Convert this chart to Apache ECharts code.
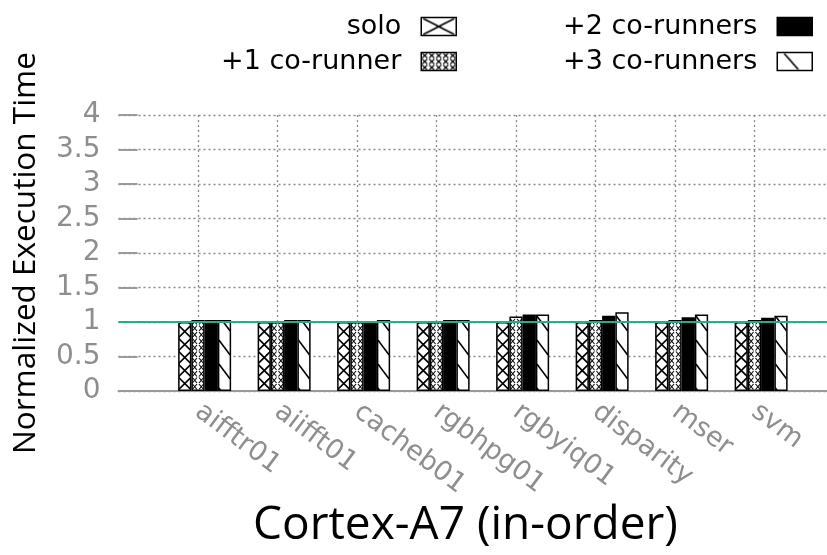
<!DOCTYPE html>
<html>
<head>
<meta charset="utf-8">
<script src="https://cdn.jsdelivr.net/npm/echarts@6/dist/echarts.min.js"></script>
<style>
  html, body { margin: 0; padding: 0; background: #ffffff; }
  #chart { width: 827px; height: 555px; }
</style>
</head>
<body>
<div id="chart"></div>
<script>
// Benchmarks on the x axis
const categories = ['aifftr01', 'aiifft01', 'cacheb01', 'rgbhpg01', 'rgbyiq01', 'disparity', 'mser', 'svm'];
// Series names
const seriesNames = ['solo', '+1 co-runner', '+2 co-runners', '+3 co-runners'];
// Normalized execution time per benchmark
const solo        = [1.00, 1.00, 1.00, 1.00, 1.00, 1.00, 1.00, 1.00];
const coRunner1   = [1.03, 1.00, 1.00, 1.00, 1.08, 1.03, 1.03, 1.03];
const coRunners2  = [1.03, 1.03, 1.00, 1.03, 1.11, 1.09, 1.07, 1.06];
const coRunners3  = [1.03, 1.03, 1.03, 1.03, 1.11, 1.14, 1.11, 1.09];
// Y axis range and reference level
const yMin = 0, yMax = 4, yStep = 0.5;
const referenceLevel = 1;

const GRAY = '#8e8e8e';
const BAR_W = 13.25;
const PHASE = 5.875; // horizontal offset of bar edges inside the 53px tile

function makeTile(w, h, draw) {
  const c = document.createElement('canvas');
  c.width = w; c.height = h;
  const ctx = c.getContext('2d');
  ctx.fillStyle = '#ffffff';
  ctx.fillRect(0, 0, w, h);
  ctx.strokeStyle = '#000000';
  ctx.fillStyle = '#000000';
  draw(ctx, w, h);
  return { image: c, repeat: 'repeat' };
}

function line(ctx, x1, y1, x2, y2, lw) {
  ctx.lineWidth = lw;
  ctx.beginPath(); ctx.moveTo(x1, y1); ctx.lineTo(x2, y2); ctx.stroke();
}

// bar fills: tiles are 4 bar widths wide so each cell lines up with a bar
const fillSolo = makeTile(53, 13, (ctx) => {
  for (let j = -1; j <= 4; j++) {
    const x0 = PHASE + j * BAR_W;
    line(ctx, x0, 0, x0 + BAR_W, 13, 1.7);
    line(ctx, x0 + BAR_W, 0, x0, 13, 1.7);
  }
});
const fillOne = makeTile(53, 13, (ctx) => {
  const cw = BAR_W / 2;
  for (let j = -2; j <= 8; j++) {
    const x0 = PHASE + j * cw;
    for (let r = 0; r < 2; r++) {
      const y0 = r * 6.5;
      line(ctx, x0 + 1, y0 + 0.5, x0 + cw - 1, y0 + 6, 1.1);
      line(ctx, x0 + cw - 1, y0 + 0.5, x0 + 1, y0 + 6, 1.1);
    }
  }
});
const fillTwo = '#000000';
const fillThree = makeTile(53, 24, (ctx) => {
  for (let j = -1; j <= 4; j++) {
    const x0 = PHASE + j * BAR_W;
    line(ctx, x0 + 1, 4, x0 + BAR_W - 1, 19, 1.5);
  }
});

// legend swatches
const swatchSolo = makeTile(35, 18, (ctx, w, h) => {
  line(ctx, 2, 1, w - 2, h - 1, 1.6);
  line(ctx, w - 2, 1, 2, h - 1, 1.6);
});
const swatchOne = makeTile(7, 6, (ctx) => {
  line(ctx, 1, 0.5, 6, 5.5, 1.1);
  line(ctx, 6, 0.5, 1, 5.5, 1.1);
});
const swatchThree = makeTile(35, 18, (ctx) => {
  line(ctx, 7, 1, 21, 17, 1.6);
});

const fills = [fillSolo, fillOne, fillTwo, fillThree];
const swatches = [swatchSolo, swatchOne, fillTwo, swatchThree];
const values = [solo, coRunner1, coRunners2, coRunners3];

function legendFor(i, right, top) {
  return {
    data: [{ name: seriesNames[i], icon: 'rect',
             itemStyle: { color: swatches[i], borderColor: '#000', borderWidth: 1.5 } }],
    right: right, top: top, padding: 0,
    align: 'right', orient: 'horizontal',
    itemWidth: 35, itemHeight: 18,
    selectedMode: false,
    textStyle: { fontFamily: 'DejaVu Sans', fontSize: 27, color: '#000', lineHeight: 18, padding: [0, 15, 0, 0] }
  };
}

const barSeries = values.map((vals, i) => ({
  name: seriesNames[i],
  type: 'bar',
  xAxisIndex: 1, yAxisIndex: 1,
  barWidth: BAR_W, barGap: '0%',
  data: vals,
  itemStyle: { color: fills[i], borderColor: '#000', borderWidth: 1.5 },
  emphasis: { disabled: true },
  z: 3
}));

const chart = echarts.init(document.getElementById('chart'), null, { renderer: 'canvas' });
chart.setOption({
  backgroundColor: '#ffffff',
  animation: false,
  title: {
    text: 'Cortex-A7 (in-order)',
    left: 248, top: 498,
    textStyle: { fontFamily: 'Open Sans', fontSize: 46, fontWeight: 'normal', color: '#000' }
  },
  legend: [
    legendFor(0, 370, 13),
    legendFor(1, 370, 48),
    legendFor(2, 14, 13),
    legendFor(3, 14, 48)
  ],
  grid: [
    { left: 118.5, right: 0, top: 115, bottom: 164 },
    { left: 158.25, right: 32.75, top: 115, bottom: 164 }
  ],
  xAxis: [
    {
      type: 'value', gridIndex: 0,
      min: 0, max: 708.5 / 79.5, interval: 1,
      axisLine: { show: true, onZero: false, lineStyle: { color: '#9a9a9a', width: 2 } },
      axisTick: { show: false },
      axisLabel: { show: false },
      splitLine: { show: true, showMinLine: false, showMaxLine: false,
        lineStyle: { color: '#8a8a8a', width: 1.3, type: [2, 3] } }
    },
    {
      type: 'category', gridIndex: 1,
      data: categories,
      axisLine: { show: false },
      axisTick: { show: false },
      axisLabel: { rotate: -37, margin: 18, fontFamily: 'DejaVu Sans', fontSize: 27, color: GRAY, interval: 0 },
      splitLine: { show: false }
    }
  ],
  yAxis: [
    {
      type: 'value', gridIndex: 0,
      min: yMin, max: yMax, interval: yStep,
      name: 'Normalized Execution Time',
      nameLocation: 'middle', nameGap: 76,
      nameTextStyle: { fontFamily: 'Open Sans', fontSize: 31.5, color: '#000' },
      axisLine: { show: false },
      axisTick: { show: true, inside: true, length: 19, lineStyle: { color: '#9a9a9a', width: 2 } },
      axisLabel: { margin: 18, fontFamily: 'DejaVu Sans', fontSize: 28, color: GRAY },
      splitLine: { show: true, lineStyle: { color: '#8a8a8a', width: 1.3, type: [2, 3] } }
    },
    {
      type: 'value', gridIndex: 1,
      min: yMin, max: yMax, interval: yStep,
      show: false
    }
  ],
  series: [
    {
      type: 'line', xAxisIndex: 0, yAxisIndex: 0,
      data: [], silent: true,
      markLine: {
        silent: true, symbol: 'none', animation: false,
        label: { show: false },
        lineStyle: { color: '#22b08a', width: 2, type: 'solid' },
        data: [{ yAxis: referenceLevel }]
      },
      z: 2
    },
    {
      // empty leading slot keeps each cluster just right of its tick
      name: 'slot', type: 'bar', xAxisIndex: 1, yAxisIndex: 1,
      barWidth: BAR_W, barGap: '0%', data: []
    }
  ].concat(barSeries)
});
</script>
</body>
</html>
